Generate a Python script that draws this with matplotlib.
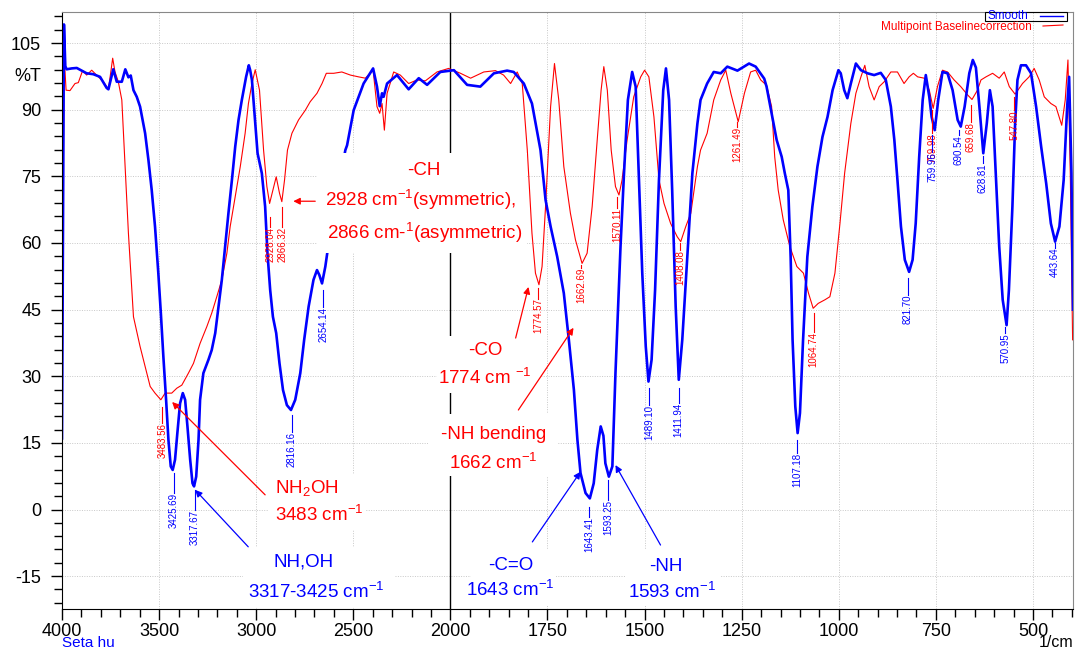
import numpy as np
import matplotlib.pyplot as plt
from matplotlib.ticker import FixedLocator, MultipleLocator
from matplotlib.lines import Line2D
from matplotlib.patches import Rectangle

plt.rcParams['font.family'] = ['Liberation Sans', 'DejaVu Sans']
plt.rcParams['mathtext.fontset'] = 'custom'
plt.rcParams['mathtext.rm'] = 'Liberation Sans'
plt.rcParams['mathtext.it'] = 'Liberation Sans:italic'
plt.rcParams['axes.unicode_minus'] = False

# blue trace ("Smooth"), wavenumber / %T
smooth_wn = [4000, 3990, 3983, 3976, 3950, 3924, 3899, 3873, 3839, 3804, 3770, 3761, 3736, 3718,
             3692, 3674, 3658, 3646, 3632, 3615, 3598, 3572, 3555, 3538, 3521, 3504, 3491, 3478,
             3464, 3452, 3440, 3430, 3418, 3406, 3392, 3378, 3366, 3354, 3340, 3328, 3320, 3309,
             3297, 3289, 3272, 3246, 3229, 3211, 3194, 3177, 3160, 3143, 3125, 3108, 3091, 3074,
             3052, 3038, 3031, 3022, 3005, 2993, 2971, 2954, 2942, 2928, 2914, 2897, 2880, 2862,
             2842, 2821, 2799, 2773, 2753, 2730, 2705, 2687, 2675, 2661, 2644, 2627, 2541, 2532,
             2498, 2447, 2398, 2378, 2364, 2352, 2344, 2326, 2275, 2215, 2163, 2120, 2052, 1991,
             1957, 1923, 1888, 1854, 1837, 1811, 1790, 1768, 1755, 1742, 1725, 1708, 1695, 1682,
             1673, 1665, 1652, 1641, 1631, 1622, 1613, 1606, 1601, 1592, 1583, 1575, 1562, 1553,
             1543, 1532, 1523, 1515, 1506, 1497, 1490, 1482, 1473, 1463, 1452, 1445, 1437, 1429,
             1420, 1412, 1403, 1390, 1377, 1364, 1356, 1339, 1322, 1304, 1287, 1261, 1231, 1214,
             1192, 1186, 1173, 1160, 1147, 1139, 1130, 1124, 1119, 1112, 1106, 1100, 1092, 1081,
             1068, 1055, 1042, 1029, 1016, 1001, 995, 986, 978, 969, 956, 943, 926, 909, 892, 879,
             866, 857, 849, 840, 830, 819, 810, 802, 793, 784, 776, 767, 761, 753, 744, 733, 720,
             707, 694, 686, 676, 664, 655, 647, 638, 628, 619, 611, 604, 595, 587, 578, 568, 562,
             553, 546, 540, 531, 518, 505, 492, 479, 466, 454, 443, 432, 421, 412, 407, 401, 397]
smooth_t = [16.0, 109.2, 99.8, 99.1, 99.3, 99.4, 98.8, 98.2, 98.0, 97.4, 94.9, 94.6, 99.1, 96.3,
            96.3, 99.1, 97.3, 97.7, 94.4, 92.9, 90.7, 84.7, 78.7, 71.9, 63.7, 53.2, 44.2, 34.4,
            24.7, 15.7, 9.7, 8.9, 11.2, 17.2, 23.9, 26.2, 24.7, 18.7, 11.2, 5.9, 5.2, 7.4,
            15.7, 24.7, 30.7, 33.7, 35.9, 39.7, 45.7, 51.7, 59.2, 66.7, 74.2, 81.7, 87.7, 92.2,
            97.4, 100.0, 98.9, 96.7, 86.9, 80.2, 75.7, 68.2, 57.7, 49.4, 43.4, 39.7, 32.9, 26.9,
            23.5, 22.4, 24.7, 30.7, 38.2, 45.7, 51.7, 53.9, 52.8, 50.9, 54.7, 59.9, 80.9, 82.0,
            89.9, 95.9, 99.3, 95.2, 90.8, 93.7, 92.9, 95.9, 97.8, 94.6, 97.1, 95.6, 98.5, 98.9,
            95.6, 95.2, 98.2, 98.8, 98.5, 95.9, 91.4, 80.9, 69.7, 63.7, 56.9, 48.7, 38.2, 26.9,
            15.7, 8.2, 3.7, 2.5, 5.9, 13.4, 18.7, 16.6, 10.4, 7.4, 9.7, 30.7, 59.2, 75.7,
            92.2, 98.5, 95.2, 75.7, 53.2, 36.7, 28.8, 33.7, 49.4, 74.2, 94.4, 99.3, 92.2, 71.9,
            45.7, 29.2, 38.2, 56.9, 75.7, 86.9, 92.2, 95.9, 98.5, 98.2, 99.7, 98.8, 100.4, 99.7,
            97.0, 95.2, 89.2, 83.2, 79.4, 75.7, 71.9, 56.9, 38.2, 23.2, 17.2, 21.7, 38.2, 56.9,
            68.2, 77.2, 83.9, 88.4, 94.4, 98.9, 98.2, 94.4, 92.6, 95.9, 100.4, 98.9, 98.2, 97.8,
            98.3, 96.7, 90.7, 83.2, 74.2, 63.7, 56.2, 53.5, 56.2, 64.4, 79.4, 92.2, 97.8, 92.9,
            88.4, 85.4, 92.2, 98.5, 98.2, 94.4, 87.7, 86.2, 90.7, 98.2, 101.2, 99.5, 90.7, 80.2,
            86.9, 94.4, 90.7, 74.2, 59.2, 47.2, 41.5, 49.4, 68.2, 86.9, 96.7, 100.0, 100.0, 98.2,
            90.7, 81.7, 73.4, 64.4, 60.3, 63.7, 74.2, 90.7, 97.4, 75.7, 45.0]

# red trace ("Multipoint Baselinecorrection"), wavenumber / %T
base_wn = [4000, 3990, 3979, 3959, 3933, 3916, 3894, 3873, 3847, 3822, 3787, 3761, 3739, 3727,
           3710, 3692, 3675, 3658, 3632, 3598, 3572, 3546, 3521, 3491, 3469, 3435, 3409, 3383,
           3349, 3323, 3289, 3254, 3229, 3203, 3177, 3151, 3134, 3108, 3082, 3057, 3040, 3022,
           3005, 2983, 2962, 2945, 2931, 2914, 2897, 2880, 2868, 2854, 2839, 2816, 2782, 2747,
           2722, 2687, 2661, 2639, 2601, 2559, 2515, 2473, 2438, 2398, 2378, 2364, 2352, 2340,
           2326, 2292, 2258, 2215, 2172, 2129, 2069, 2009, 1974, 1948, 1914, 1884, 1863, 1845,
           1828, 1815, 1802, 1790, 1781, 1772, 1764, 1755, 1742, 1732, 1721, 1708, 1691, 1678,
           1661, 1648, 1635, 1622, 1612, 1605, 1596, 1586, 1575, 1566, 1558, 1545, 1528, 1510,
           1500, 1489, 1476, 1463, 1450, 1433, 1416, 1407, 1394, 1381, 1364, 1356, 1339, 1322,
           1304, 1291, 1278, 1259, 1243, 1227, 1214, 1201, 1186, 1173, 1165, 1156, 1143, 1126,
           1108, 1091, 1078, 1066, 1053, 1036, 1023, 1010, 997, 985, 969, 956, 943, 933, 922,
           909, 896, 883, 866, 849, 832, 819, 808, 797, 780, 767, 757, 746, 733, 720, 703, 686,
           668, 657, 643, 634, 621, 604, 587, 574, 561, 546, 527, 510, 497, 484, 471, 454, 441,
           426, 417, 410, 404, 398]
base_t = [16.0, 103.0, 94.4, 94.3, 95.9, 96.1, 98.8, 97.8, 98.9, 97.8, 96.3, 94.6, 101.6, 98.5,
          96.3, 92.2, 77.2, 62.2, 43.4, 36.7, 32.2, 27.7, 26.2, 24.7, 26.2, 26.2, 27.3, 28.0,
          30.7, 32.9, 37.4, 41.2, 44.2, 47.9, 51.7, 57.7, 63.7, 70.4, 77.2, 84.7, 91.4, 95.9,
          99.0, 94.4, 80.9, 72.7, 68.9, 71.9, 74.9, 71.2, 69.3, 74.2, 80.9, 84.7, 87.7, 89.9,
          91.8, 93.7, 95.9, 98.2, 98.2, 98.5, 97.8, 97.4, 97.1, 98.9, 90.7, 89.2, 91.4, 85.4,
          93.7, 98.5, 97.8, 95.9, 96.7, 96.5, 98.5, 99.3, 98.2, 97.1, 98.5, 98.8, 97.8, 95.9,
          98.5, 95.9, 80.9, 62.2, 53.2, 50.6, 54.7, 68.2, 90.7, 100.4, 92.2, 77.2, 66.7, 60.7,
          55.4, 57.7, 68.2, 83.2, 94.4, 99.7, 94.4, 80.9, 72.7, 70.8, 74.2, 83.2, 92.9, 97.4,
          98.9, 97.4, 88.4, 74.2, 68.9, 64.4, 61.4, 60.3, 63.7, 66.7, 77.2, 80.9, 84.7, 92.2,
          96.7, 98.9, 93.7, 87.3, 93.7, 98.5, 98.9, 96.7, 95.5, 90.7, 79.4, 71.9, 65.2, 59.2,
          54.7, 53.2, 48.7, 45.3, 46.4, 47.2, 47.9, 53.2, 64.4, 75.7, 86.9, 93.7, 97.4, 100.0, 95.2,
          92.2, 95.2, 96.3, 98.5, 98.5, 95.9, 97.4, 98.2, 97.4, 97.1, 94.4, 90.3, 95.2, 98.9, 98.5,
          96.7, 95.2, 93.3, 92.3, 94.4, 96.7, 97.4, 98.2, 97.1, 98.5, 95.2, 93.5, 95.9, 97.4, 99.3,
          96.7, 92.9, 91.4, 90.7, 86.5, 92.2, 101.2, 75.7, 38.2]

# peak picks
red_peaks = [3483.56, 2928.04, 2866.32, 1774.57, 1662.69, 1570.11, 1408.08, 1261.49,
             1064.74, 759.98, 659.68, 547.80]
blue_peaks = [3425.69, 3317.67, 2816.16, 2654.14, 1643.41, 1593.25, 1489.10, 1411.94,
              1107.18, 821.70, 759.96, 690.54, 628.81, 570.95, 443.64]

# where each pick's leader line starts / where its text starts (%T)
red_line_top = [23.1, 65.8, 68.1, 49.9, 55.0, 70.3, 60.0, 87.2, 44.2, 90.0, 91.0, 92.8]
red_text_top = [19.5, 63.6, 63.6, 47.5, 54.4, 67.9, 58.4, 86.1, 40.0, 84.7, 87.2, 89.9]
blue_line_top = [8.2, 4.4, 21.3, 49.4, 0.6, 6.7, 27.4, 27.4, 15.7, 52.1, 84.3, 85.4, 79.5, 41.1, 60.0]
blue_text_top = [3.7, -0.1, 17.5, 45.6, -1.7, 2.2, 23.5, 24.0, 12.7, 48.3, 80.5, 84.3, 78.0, 39.7, 58.9]

BLUE = '#0000ff'
RED = '#ff0000'


def fwd(x):
    # the spectrometer doubles the scale below 2000 1/cm
    x = np.asarray(x, dtype=float)
    return np.where(x > 2000, 2000 + (x - 2000) / 2, x)


def inv(t):
    t = np.asarray(t, dtype=float)
    return np.where(t > 2000, 2000 + (t - 2000) * 2, t)


W, H = 1077, 650
fig = plt.figure(figsize=(W / 100, H / 100), dpi=100)
ax = fig.add_axes([62 / W, 1 - 609 / H, (1073 - 62) / W, (609 - 12) / H])
ax.set_xscale('function', functions=(fwd, inv))
ax.set_xlim(4000, 397)
ax.set_ylim(-22.4, 112)

major_x = [4000, 3500, 3000, 2500, 2000, 1750, 1500, 1250, 1000, 750, 500]
minor_x = [v for v in range(3900, 2000, -100) if v not in major_x] + \
          [v for v in range(1950, 399, -50) if v not in major_x]
ax.xaxis.set_major_locator(FixedLocator(major_x))
ax.xaxis.set_minor_locator(FixedLocator(minor_x))
ax.set_xticklabels([str(v) for v in major_x])
ax.yaxis.set_major_locator(FixedLocator(list(range(-15, 106, 15))))
ax.yaxis.set_minor_locator(MultipleLocator(3))
ax.tick_params(which='major', length=8, width=1, labelsize=13, direction='out')
ax.tick_params(which='minor', length=6, width=1, direction='out')
ax.tick_params(axis='x', pad=2)
ax.tick_params(axis='y', pad=7)

ax.grid(True, which='major', color='#c8c8c8', linestyle=(0, (1, 1.5)), linewidth=0.7)
ax.set_axisbelow(True)
for s in ['top', 'right']:
    ax.spines[s].set_color('#888888')
for s in ['left', 'bottom']:
    ax.spines[s].set_color('black')
ax.axvline(2000, color='black', lw=1, zorder=1)

ax.plot(base_wn, base_t, color=RED, lw=0.8, zorder=2)
ax.plot(smooth_wn, smooth_t, color=BLUE, lw=1.9, zorder=2.1)

# peak pick labels
for wn, lt, tt in zip(red_peaks, red_line_top, red_text_top):
    ax.plot([wn, wn], [lt, tt], color=RED, lw=0.8, zorder=2.5)
    ax.text(wn, tt, f'{wn:.2f}', color=RED, fontsize=7, rotation=90,
            ha='center', va='top', zorder=2.5)
for wn, lt, tt in zip(blue_peaks, blue_line_top, blue_text_top):
    ax.plot([wn, wn], [lt, tt], color=BLUE, lw=0.8, zorder=2.6)
    ax.text(wn, tt, f'{wn:.2f}', color=BLUE, fontsize=7, rotation=90,
            ha='center', va='top', zorder=2.6)


def white_box(x0, x1, y0, y1):
    ax.fill([x0, x1, x1, x0], [y0, y0, y1, y1], color='white', lw=0, zorder=3)


def label(x, y, s, c, ha='center'):
    ax.text(x, y, s, color=c, fontsize=13.5, ha=ha, va='center', zorder=4)


def arrow(x0, y0, x1, y1, c):
    ax.annotate('', xy=(x1, y1), xytext=(x0, y0), zorder=5,
                arrowprops=dict(arrowstyle='-|>', color=c, lw=0.9, mutation_scale=10,
                                shrinkA=0, shrinkB=0))


# -CH
white_box(2686, 1802, 57.7, 80.2)
label(2139, 76.4, '-CH', RED)
label(2155, 69.7, '2928 cm$^{-1}$(symmetric),', RED)
label(2134, 62.2, '2866 cm-$^{1}$(asymmetric)', RED)
arrow(2696, 69.4, 2809, 69.4, RED)

# -CO
white_box(2067, 1768, 26.2, 39.1)
label(1910, 35.9, '-CO', RED)
label(1910, 29.6, '1774 cm $^{-1}$', RED)
arrow(1832, 38.6, 1799, 50.1, RED)

# -NH bending
white_box(2113, 1724, 7.6, 21.5)
label(1889, 16.8, '-NH bending', RED)
label(1889, 10.5, '1662 cm$^{-1}$', RED)
arrow(1825, 22.4, 1683, 40.9, RED)

# NH2OH
white_box(2938, 2438, -4.6, 8.0)
label(2902, 4.9, 'NH$_2$OH', RED, ha='left')
label(2902, -1.2, '3483 cm$^{-1}$', RED, ha='left')
arrow(2954, 3.3, 3433, 24.2, RED)

# NH,OH
white_box(3067, 2284, -21.9, -8.4)
label(2758, -11.8, 'NH,OH', BLUE)
label(2691, -18.5, '3317-3425 cm$^{-1}$', BLUE)
arrow(3041, -8.4, 3314, 4.4, BLUE)

# -C=O
white_box(1948, 1729, -21.5, -9.1)
label(1845, -12.5, '-C=O', BLUE)
label(1845, -18.1, '1643 cm$^{-1}$', BLUE)
arrow(1789, -7.3, 1665, 8.5, BLUE)

# -NH
white_box(1549, 1304, -21.5, -9.1)
label(1446, -12.9, '-NH', BLUE)
label(1428, -18.5, '1593 cm$^{-1}$', BLUE)
arrow(1459, -8.0, 1575, 10.0, BLUE)

# %T in the tick column
ax.text(-0.021, 97.4, '%T', transform=ax.get_yaxis_transform(), ha='right',
        va='center', fontsize=13)

# axis captions
fig.text(62 / W, 0.0, 'Seta hu', color=BLUE, fontsize=11, ha='left', va='bottom')
fig.text(1073 / W, 0.0, '1/cm', color='black', fontsize=11.5, ha='right', va='bottom')

# legend
fig.patches.append(Rectangle((985 / W, 1 - 21 / H), 82 / W, 9 / H, transform=fig.transFigure,
                             fill=False, ec='black', lw=0.8))
fig.text(988 / W, 1 - 16 / H, 'Smooth', color=BLUE, fontsize=8.5, ha='left', va='center')
fig.lines.append(Line2D([1040 / W, 1063 / W], [1 - 16 / H, 1 - 16 / H],
                        transform=fig.transFigure, color=BLUE, lw=1))
fig.text(1032 / W, 1 - 27 / H, 'Multipoint Baselinecorrection', color=RED, fontsize=8.5,
         ha='right', va='center')
fig.lines.append(Line2D([1043 / W, 1063 / W], [1 - 26 / H, 1 - 25 / H],
                        transform=fig.transFigure, color=RED, lw=0.8))

fig.savefig('out.png', dpi=100)
